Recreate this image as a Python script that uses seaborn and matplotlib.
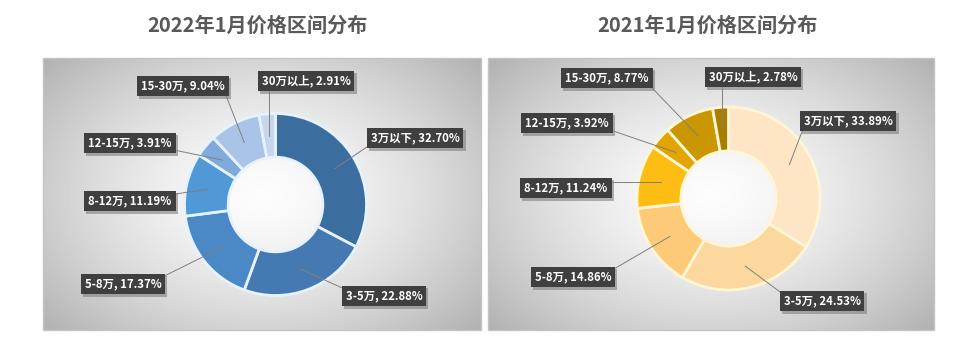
import numpy as np
import matplotlib
matplotlib.use("Agg")
import matplotlib.pyplot as plt
import matplotlib.patheffects as pe
from matplotlib.patches import Rectangle
from matplotlib.colors import LinearSegmentedColormap
import seaborn as sns

# ---- data ----
categories = ['3万以下', '3-5万', '5-8万', '8-12万', '12-15万', '15-30万', '30万以上']
share_2022 = [32.70, 22.88, 17.37, 11.19, 3.91, 9.04, 2.91]
share_2021 = [33.89, 24.53, 14.86, 11.24, 3.92, 8.77, 2.78]
titles = ['2022年1月价格区间分布', '2021年1月价格区间分布']

colors_2022 = ['#3B6E9F', '#4579B2', '#4A89C6', '#5198D6', '#80AADB', '#A9C4E6', '#C6D6EC']
colors_2021 = ['#FDE5C6', '#FDD89E', '#FDCA78', '#FDBD12', '#E2A500', '#CB9700', '#A97E00']

sns.set_theme(style='white')
plt.rcParams['font.family'] = ['Noto Sans CJK SC', 'DejaVu Sans']

W, H = 960, 340
fig = plt.figure(figsize=(9.6, 3.4), dpi=100)
ax = fig.add_axes([0, 0, 1, 1])
ax.set_xlim(0, W)
ax.set_ylim(0, H)
ax.axis('off')

def Y(y):
    return H - y

panels = [
    dict(box=(43, 58, 481, 330), center=(275.5, 204.5), r=91, title_x=257,
         shares=share_2022, colors=colors_2022, edge='#E6F2FF',
         labels=[(415, 138), (384, 296), (123, 284), (130, 201), (130, 143), (183, 86), (306, 81)]),
    dict(box=(488, 58, 934, 330), center=(728.5, 198.5), r=91.5, title_x=707,
         shares=share_2021, colors=colors_2021, edge='#FFF6D8',
         labels=[(848, 121), (822, 301), (573, 277), (566, 188), (567, 123), (607, 78), (753, 77)]),
]

# background gradient template
gx, gy = np.meshgrid(np.linspace(-1, 1, 300), np.linspace(-1, 1, 200))
rr = np.sqrt(gx ** 2 + (gy * 0.9) ** 2)
grad = np.clip(0.99 - 0.19 * rr ** 1.5, 0, 1)
gcmap = LinearSegmentedColormap.from_list('g', ['#000000', '#ffffff'])

inner_ratio = 0.52
fig.canvas.draw()
renderer = fig.canvas.get_renderer()

for k, p in enumerate(panels):
    x0, y0, x1, y1 = p['box']
    ax.imshow(grad, cmap=gcmap, vmin=0, vmax=1, extent=(x0, x1, Y(y1), Y(y0)),
              aspect='auto', zorder=0, interpolation='bilinear')
    ax.add_patch(Rectangle((x0, Y(y1)), x1 - x0, y1 - y0, fill=False,
                           ec='#C4C4C4', lw=1.0, zorder=1))
    ax.text(p['title_x'], Y(25), titles[k], ha='center', va='center',
            fontsize=14.5, fontweight='bold', color='#595959')

    cx, cy = p['center']
    r = p['r']
    shares = p['shares']
    ax.pie(shares, colors=p['colors'], startangle=90, counterclock=False,
           center=(cx, Y(cy)), radius=r, frame=True,
           wedgeprops=dict(width=r * (1 - inner_ratio), edgecolor=p['edge'], linewidth=2.0))
    ax.set_xlim(0, W)
    ax.set_ylim(0, H)

    total = sum(shares)
    cum = 0.0
    rm = r * (1 + inner_ratio) / 2
    for i, (cat, v) in enumerate(zip(categories, shares)):
        mid = cum + v / 2
        cum += v
        theta = np.deg2rad(90 - 360 * mid / total)
        axp, ayp = cx + rm * np.cos(theta), Y(cy) + rm * np.sin(theta)
        lx, ly = p['labels'][i]
        t = ax.text(lx, Y(ly), f'{cat}, {v:.2f}%', ha='center', va='center',
                    fontsize=8.2, fontweight='bold', color='white', zorder=6,
                    bbox=dict(boxstyle='square,pad=0.35', fc='#3F3F3F', ec='none'))
        t.get_bbox_patch().set_path_effects([
            pe.SimplePatchShadow(offset=(1.5, -1.5), shadow_rgbFace='#808080', alpha=0.6),
            pe.Normal()])
        bb = t.get_window_extent(renderer=renderer)
        bbd = bb.transformed(ax.transData.inverted())
        ex = min(max(axp, bbd.x0), bbd.x1)
        ey = min(max(ayp, bbd.y0), bbd.y1)
        ax.plot([ex, axp], [ey, ayp], color='#7F7F7F', lw=0.7, zorder=5)

ax.set_xlim(0, W)
ax.set_ylim(0, H)
ax.set_aspect('auto')
fig.savefig('out.png', dpi=100, facecolor='white')
